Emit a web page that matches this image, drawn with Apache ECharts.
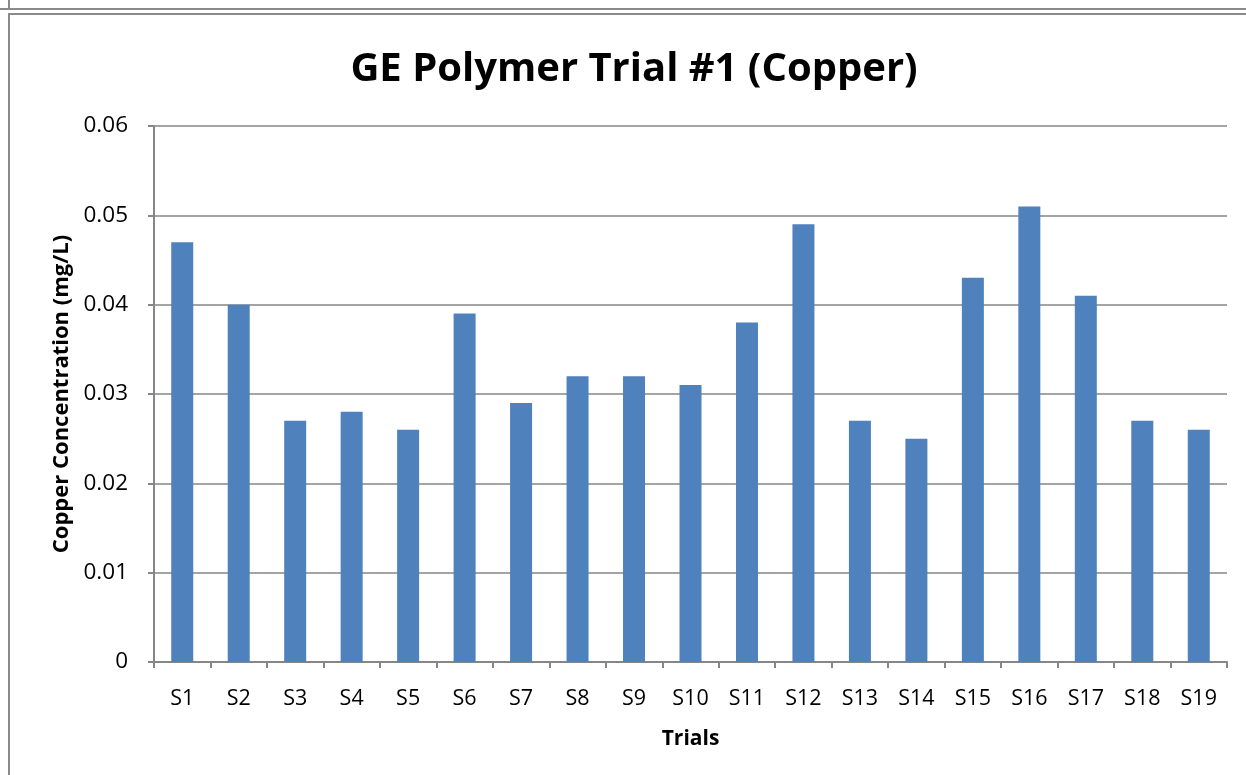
<!DOCTYPE html>
<html><head><meta charset="utf-8">
<script src="https://cdn.jsdelivr.net/npm/echarts@6/dist/echarts.min.js"></script>
<style>html,body{margin:0;padding:0;background:#fff}#c{width:1246px;height:775px}</style>
</head><body><div id="c"></div>
<script>
const categories = ['S1','S2','S3','S4','S5','S6','S7','S8','S9','S10','S11','S12','S13','S14','S15','S16','S17','S18','S19'];
const copperValues = [0.047,0.040,0.027,0.028,0.026,0.039,0.029,0.032,0.032,0.031,0.038,0.049,0.027,0.025,0.043,0.051,0.041,0.027,0.026];
const yTicks = [0,0.01,0.02,0.03,0.04,0.05,0.06];
const FONT = '"Open Sans", "Liberation Sans", sans-serif';
const chart = echarts.init(document.getElementById('c'));
chart.setOption({
  animation:false,
  title:{text:'GE Polymer Trial #1 (Copper)',left:629,top:45,textAlign:'center',
    textStyle:{fontFamily:FONT,fontWeight:'bold',fontSize:40,color:'#000'}},
  grid:{left:154,right:19,top:126,bottom:113},
  xAxis:{type:'category',data:categories,name:'Trials',nameLocation:'middle',nameGap:67,
    nameTextStyle:{fontFamily:FONT,fontWeight:'bold',fontSize:21,color:'#000'},
    axisLine:{lineStyle:{color:'#868686',width:2}},
    axisTick:{show:true,length:6,lineStyle:{color:'#868686',width:2}},
    axisLabel:{fontFamily:FONT,fontSize:21.5,color:'#000',margin:26}},
  yAxis:{type:'value',min:0,max:0.06,interval:0.01,
    name:'Copper Concentration (mg/L)',nameLocation:'middle',nameGap:80,
    nameTextStyle:{fontFamily:FONT,fontWeight:'bold',fontSize:22,color:'#000'},
    axisLine:{show:true,lineStyle:{color:'#868686',width:2}},
    axisTick:{show:true,length:6,lineStyle:{color:'#868686',width:2}},
    splitLine:{lineStyle:{color:'#868686',width:1.5}},
    axisLabel:{fontFamily:FONT,fontSize:22.5,color:'#000',margin:26,
      formatter:v=>{const t=yTicks.find(x=>Math.abs(x-v)<1e-9);return t===0?'0':String(+(t!==undefined?t:v).toFixed(2));}}},
  series:[{type:'bar',data:copperValues,barWidth:22,itemStyle:{color:'#4F81BD'}}],
  graphic:[
    {type:'line',shape:{x1:0,y1:9,x2:1246,y2:9},style:{stroke:'#8a8a8a',lineWidth:2}},
    {type:'line',shape:{x1:8,y1:14,x2:1246,y2:14},style:{stroke:'#8a8a8a',lineWidth:2}},
    {type:'line',shape:{x1:9,y1:0,x2:9,y2:9},style:{stroke:'#8a8a8a',lineWidth:2}},
    {type:'line',shape:{x1:9,y1:14,x2:9,y2:775},style:{stroke:'#8a8a8a',lineWidth:2}}
  ]
});
</script></body></html>
